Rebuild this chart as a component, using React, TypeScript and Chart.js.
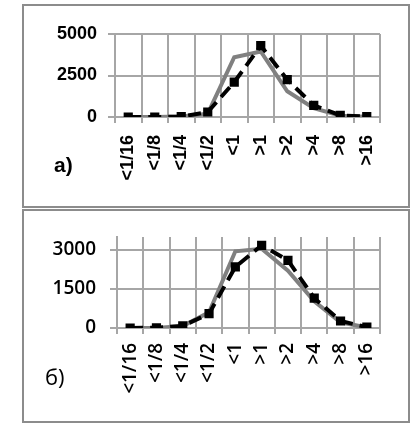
import React, { useEffect, useRef } from "react";
import { Chart, registerables } from "chart.js";

Chart.register(...registerables);

const categories = ["<1/16", "<1/8", "<1/4", "<1/2", "<1", ">1", ">2", ">4", ">8", ">16"];
const panelA_black = [0, 0, 20, 300, 2100, 4300, 2250, 700, 100, 20];
const panelA_gray = [0, 0, 30, 200, 3600, 3950, 1550, 530, 80, 10];
const panelB_black = [0, 10, 80, 550, 2350, 3180, 2600, 1150, 270, 30];
const panelB_gray = [0, 0, 80, 600, 2950, 3050, 2200, 1030, 220, 20];
const panelA_yTickValues = [0, 2500, 5000];
const panelB_yTickValues = [0, 1500, 3000];
const panelA_yMax = 5000;
const panelB_yMax = 3500;

type PanelProps = {
  black: number[];
  gray: number[];
  yMax: number;
  yTicks: number[];
  width: number;
  height: number;
  yWidth: number;
  xHeight: number;
  padTop: number;
  padRight: number;
  font: any;
  xPad: number;
  yPad: number;
};

function ChartCanvas(p: PanelProps) {
  const ref = useRef<HTMLCanvasElement | null>(null);
  useEffect(() => {
    if (!ref.current) return;
    const gridColor = "#a6a6a6";
    const chart = new Chart(ref.current, {
      type: "line",
      data: {
        labels: categories,
        datasets: [
          {
            data: p.black,
            borderColor: "#000000",
            backgroundColor: "#000000",
            borderWidth: 4,
            borderDash: [13, 7],
            pointStyle: "rect",
            pointRadius: 6.5,
            pointBorderWidth: 0,
            tension: 0,
          },
          {
            data: p.gray,
            borderColor: "#808080",
            backgroundColor: "#808080",
            borderWidth: 4,
            pointRadius: 0,
            tension: 0,
          },
        ],
      },
      options: {
        animation: false,
        responsive: false,
        maintainAspectRatio: false,
        layout: { padding: { top: p.padTop, right: p.padRight, left: 0, bottom: 0 } },
        plugins: { legend: { display: false }, tooltip: { enabled: false } },
        scales: {
          x: {
            type: "category",
            offset: true,
            grid: { offset: true, color: gridColor, lineWidth: 2, tickLength: 6 },
            border: { color: gridColor, width: 2 },
            ticks: {
              autoSkip: false,
              maxRotation: 90,
              minRotation: 90,
              padding: p.xPad,
              color: "#000",
              font: p.font,
            },
            afterFit: (s: any) => {
              s.height = p.xHeight;
            },
          },
          y: {
            min: 0,
            max: p.yMax,
            grid: { color: gridColor, lineWidth: 2, tickLength: 7 },
            border: { color: gridColor, width: 2 },
            ticks: {
              padding: p.yPad,
              color: "#000",
              font: p.font,
              callback: (v: any) => String(v),
            },
            afterBuildTicks: (s: any) => {
              s.ticks = p.yTicks.map((v) => ({ value: v }));
            },
            afterFit: (s: any) => {
              s.width = p.yWidth;
            },
          },
        },
      },
    } as any);
    return () => chart.destroy();
  }, []);
  return <canvas ref={ref} width={p.width} height={p.height} style={{ display: "block", width: p.width, height: p.height }} />;
}

export default function App() {
  const border = "2px solid #8c8c8c";
  return (
    <div style={{ position: "absolute", left: 0, top: 0, width: 419, height: 423, background: "#fff" }}>
      <div style={{ position: "absolute", left: 22, top: 4, width: 388, height: 204, border, boxSizing: "border-box" }}>
        <ChartCanvas
          black={panelA_black}
          gray={panelA_gray}
          yMax={panelA_yMax}
          yTicks={panelA_yTickValues}
          width={384}
          height={200}
          yWidth={91}
          xHeight={89}
          padTop={28}
          padRight={28}
          font={{ family: "'Liberation Sans', Arial, sans-serif", size: 18, weight: "bold" }}
          xPad={12}
          yPad={11}
        />
        <div style={{ position: "absolute", left: 30, top: 148, font: "bold 21px 'Liberation Sans', Arial, sans-serif", lineHeight: "22px", color: "#000" }}>
          a)
        </div>
      </div>
      <div style={{ position: "absolute", left: 22, top: 209, width: 388, height: 214, border, boxSizing: "border-box" }}>
        <ChartCanvas
          black={panelB_black}
          gray={panelB_gray}
          yMax={panelB_yMax}
          yTicks={panelB_yTickValues}
          width={384}
          height={210}
          yWidth={93}
          xHeight={93}
          padTop={26}
          padRight={28}
          font={{ family: "'Open Sans', sans-serif", size: 19, weight: 600 }}
          xPad={9}
          yPad={14}
        />
        <div style={{ position: "absolute", left: 21, top: 152, font: "22px 'Open Sans', sans-serif", lineHeight: "26px", color: "#000" }}>
          б)
        </div>
      </div>
    </div>
  );
}
